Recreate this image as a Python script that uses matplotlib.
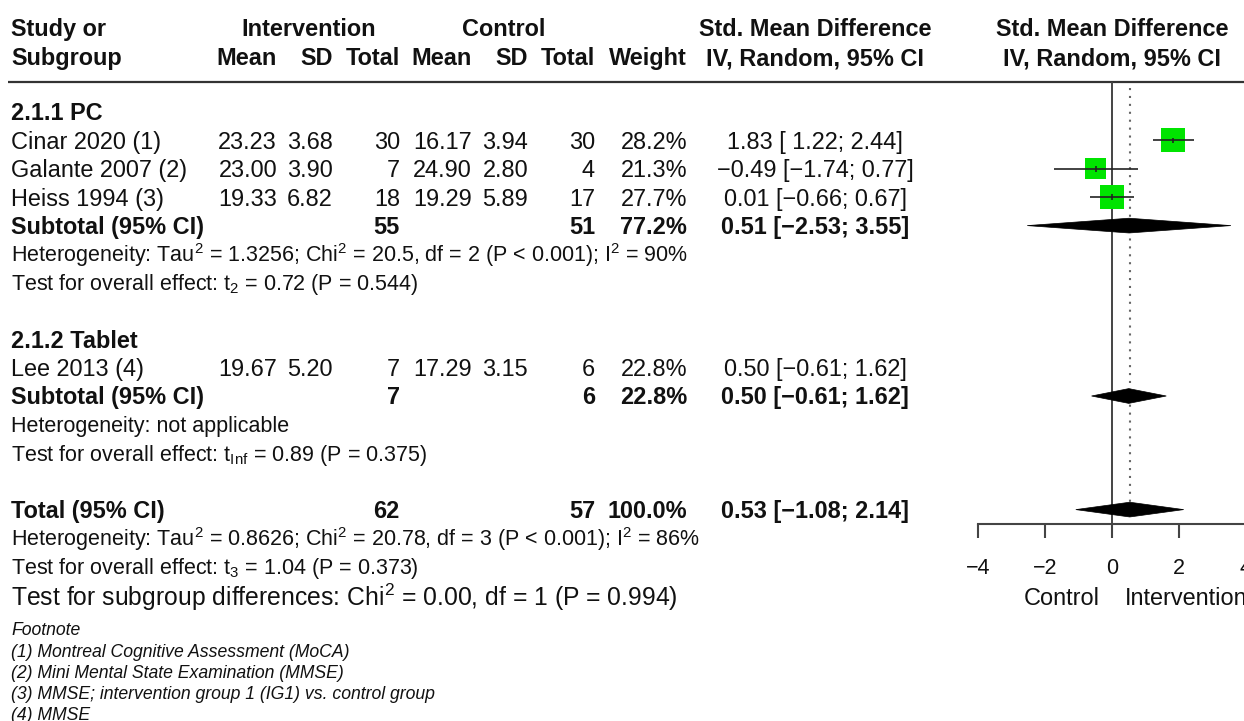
import numpy as np
import matplotlib
matplotlib.use("Agg")
import matplotlib.pyplot as plt
from matplotlib.patches import Polygon

plt.rcParams['font.family'] = ['Liberation Sans', 'DejaVu Sans']
plt.rcParams['mathtext.fontset'] = 'custom'
plt.rcParams['mathtext.rm'] = 'Liberation Sans'
plt.rcParams['mathtext.it'] = 'Liberation Sans:italic'
plt.rcParams['mathtext.bf'] = 'Liberation Sans:bold'
plt.rcParams['mathtext.default'] = 'rm'

# ---- study-level data -------------------------------------------------------
studies = ["Cinar 2020 (1)", "Galante 2007 (2)", "Heiss 1994 (3)", "Lee 2013 (4)"]
study_group = [0, 0, 0, 1]
int_mean = [23.23, 23.00, 19.33, 19.67]
int_sd = [3.68, 3.90, 6.82, 5.20]
int_n = [30, 7, 18, 7]
ctl_mean = [16.17, 24.90, 19.29, 17.29]
ctl_sd = [3.94, 2.80, 5.89, 3.15]
ctl_n = [30, 4, 17, 6]
weights = [28.2, 21.3, 27.7, 22.8]
smd = [1.83, -0.49, 0.01, 0.50]
ci_lo = [1.22, -1.74, -0.66, -0.61]
ci_hi = [2.44, 0.77, 0.67, 1.62]
show_square = [True, True, True, False]

# ---- subgroup and overall summaries ----------------------------------------
groups = ["2.1.1 PC", "2.1.2 Tablet"]
sub_n_int = [55, 7]
sub_n_ctl = [51, 6]
sub_weight = [77.2, 22.8]
sub_smd = [0.51, 0.50]
sub_lo = [-2.53, -0.61]
sub_hi = [3.55, 1.62]
sub_het = [r"Heterogeneity: Tau$^2$ = 1.3256; Chi$^2$ = 20.5, df = 2 (P < 0.001); I$^2$ = 90%",
           "Heterogeneity: not applicable"]
sub_test = [r"Test for overall effect: t$_2$ = 0.72 (P = 0.544)",
            r"Test for overall effect: t$_{\mathrm{Inf}}$ = 0.89 (P = 0.375)"]

tot_n_int, tot_n_ctl, tot_weight = 62, 57, 100.0
tot_smd, tot_lo, tot_hi = 0.53, -1.08, 2.14
tot_het = r"Heterogeneity: Tau$^2$ = 0.8626; Chi$^2$ = 20.78, df = 3 (P < 0.001); I$^2$ = 86%"
tot_test = r"Test for overall effect: t$_3$ = 1.04 (P = 0.373)"
subgroup_test = r"Test for subgroup differences: Chi$^2$ = 0.00, df = 1 (P = 0.994)"

x_ticks = [-4, -2, 0, 2, 4]
label_left, label_right = "Control", "Intervention"

footnotes = ["Footnote",
             "(1) Montreal Cognitive Assessment (MoCA)",
             "(2) Mini Mental State Examination (MMSE)",
             "(3) MMSE; intervention group 1 (IG1) vs. control group",
             "(4) MMSE"]

# ---- layout -----------------------------------------------------------------
FIG_W, FIG_H, DPI = 1244, 721, 100
ROW0, ROW_H = 112, 28.4          # pixel centre of the first body row, row pitch
MAIN, SMALL, FOOT, TICK, SUBTEST = 16.9, 15.5, 12.7, 15.5, 17.8
INK = '#111111'
LINE = '#444444'
GREEN = '#00e400'


def row_of(px):
    return (px - ROW0) / ROW_H


def fmt(v):
    return f"{v:.2f}".replace('-', '\u2212')


def ci_text(est, lo, hi):
    return f"{est:.2f} [{lo:5.2f}; {hi:.2f}]".replace('-', '\u2212')


fig = plt.figure(figsize=(FIG_W / DPI, FIG_H / DPI), dpi=DPI)
fig.patch.set_facecolor('white')

tab = fig.add_axes([0, 0, 1, 1])
tab.set_xlim(0, FIG_W)
tab.set_ylim(row_of(FIG_H), row_of(0))
tab.axis('off')


def put(ax, x, r, s, size=MAIN, ha='left', weight='normal', style='normal'):
    # place text so that its cap height is centred on row r
    off = 0.716 * size / 72 * DPI / 2 / ROW_H
    ax.text(x, r + off, s, ha=ha, va='baseline', fontsize=size,
            fontweight=weight, fontstyle=style, color=INK, clip_on=False)


X_NAME = 11
X_IMEAN, X_ISD, X_IN = 277, 333, 400
X_CMEAN, X_CSD, X_CN = 472, 528, 595
X_W, X_CI = 687, 815

H1, H2 = row_of(28), row_of(57)
put(tab, X_NAME, H1, "Study or", weight='bold')
put(tab, X_NAME, H2, "Subgroup", weight='bold')
put(tab, (217 + X_IN) / 2, H1, "Intervention", ha='center', weight='bold')
put(tab, (412 + X_CN) / 2, H1, "Control", ha='center', weight='bold')
put(tab, X_CI, H1, "Std. Mean Difference", ha='center', weight='bold')
for x, s in [(X_IMEAN, "Mean"), (X_ISD, "SD"), (X_IN, "Total"),
             (X_CMEAN, "Mean"), (X_CSD, "SD"), (X_CN, "Total"), (X_W, "Weight")]:
    put(tab, x, H2, s, ha='right', weight='bold')
put(tab, X_CI, H2, "IV, Random, 95% CI", ha='center', weight='bold')
tab.hlines(row_of(82), 8, FIG_W, color='#333333', lw=1.6)

# row index of every block
group_row = [0, 8]
study_row = [1, 2, 3, 9]
sub_row = [4, 10]
tot_row = 14

for g, name in enumerate(groups):
    put(tab, X_NAME, group_row[g], name, weight='bold')

for i, name in enumerate(studies):
    r = study_row[i]
    put(tab, X_NAME, r, name)
    put(tab, X_IMEAN, r, fmt(int_mean[i]), ha='right')
    put(tab, X_ISD, r, fmt(int_sd[i]), ha='right')
    put(tab, X_IN, r, str(int_n[i]), ha='right')
    put(tab, X_CMEAN, r, fmt(ctl_mean[i]), ha='right')
    put(tab, X_CSD, r, fmt(ctl_sd[i]), ha='right')
    put(tab, X_CN, r, str(ctl_n[i]), ha='right')
    put(tab, X_W, r, f"{weights[i]:.1f}%", ha='right')
    put(tab, X_CI, r, ci_text(smd[i], ci_lo[i], ci_hi[i]), ha='center')

for g in range(len(groups)):
    r = sub_row[g]
    put(tab, X_NAME, r, "Subtotal (95% CI)", weight='bold')
    put(tab, X_IN, r, str(sub_n_int[g]), ha='right', weight='bold')
    put(tab, X_CN, r, str(sub_n_ctl[g]), ha='right', weight='bold')
    put(tab, X_W, r, f"{sub_weight[g]:.1f}%", ha='right', weight='bold')
    put(tab, X_CI, r, ci_text(sub_smd[g], sub_lo[g], sub_hi[g]), ha='center', weight='bold')
    put(tab, X_NAME, r + 1, sub_het[g], size=SMALL)
    put(tab, X_NAME, r + 2, sub_test[g], size=SMALL)

put(tab, X_NAME, tot_row, "Total (95% CI)", weight='bold')
put(tab, X_IN, tot_row, str(tot_n_int), ha='right', weight='bold')
put(tab, X_CN, tot_row, str(tot_n_ctl), ha='right', weight='bold')
put(tab, X_W, tot_row, f"{tot_weight:.1f}%", ha='right', weight='bold')
put(tab, X_CI, tot_row, ci_text(tot_smd, tot_lo, tot_hi), ha='center', weight='bold')
put(tab, X_NAME, tot_row + 1, tot_het, size=SMALL)
put(tab, X_NAME, tot_row + 2, tot_test, size=SMALL)
put(tab, X_NAME, row_of(597), subgroup_test, size=SUBTEST)

for k, s in enumerate(footnotes):
    put(tab, X_NAME, row_of(629 + 21.2 * k), s, size=FOOT, style='italic')

# ---- forest panel -----------------------------------------------------------
AX_L, AX_R, AX_TOP, AX_BOT = 978, 1246, 82, 524
fx = fig.add_axes([AX_L / FIG_W, 1 - AX_BOT / FIG_H,
                   (AX_R - AX_L) / FIG_W, (AX_BOT - AX_TOP) / FIG_H])
fx.patch.set_alpha(0)
fx.set_xlim(x_ticks[0], x_ticks[-1])
fx.set_ylim(row_of(AX_BOT), row_of(AX_TOP))
for side in ['top', 'left', 'right']:
    fx.spines[side].set_visible(False)
fx.spines['bottom'].set_color(LINE)
fx.spines['bottom'].set_linewidth(1.5)
fx.set_xticks(x_ticks)
fx.set_xticklabels([str(t).replace('-', '\u2212') for t in x_ticks])
fx.tick_params(axis='x', direction='out', length=10, width=1.5, pad=14.5,
               labelsize=TICK, color=LINE, labelcolor=INK)
fx.set_yticks([])

put(fx, 0, H1, "Std. Mean Difference", ha='center', weight='bold')
put(fx, 0, H2, "IV, Random, 95% CI", ha='center', weight='bold')

fx.axvline(0, color=LINE, lw=1.4, zorder=1)
HALF = 0.26
fx.vlines(tot_smd, row_of(88), tot_row - HALF, colors='#666666',
          linestyles=(0, (1, 2.8)), lw=1.5, zorder=1)

PX_PER_SQRT_W = 4.52
for i in range(len(studies)):
    if not show_square[i]:
        continue
    r = study_row[i]
    side_pt = PX_PER_SQRT_W * np.sqrt(weights[i]) * 72 / DPI
    fx.scatter([smd[i]], [r], marker='s', s=side_pt ** 2, color=GREEN,
               edgecolors='none', zorder=3)
    fx.hlines(r, ci_lo[i], ci_hi[i], colors='#222222', lw=1.2, zorder=4)
    fx.vlines(smd[i], r - 0.1, r + 0.1, colors='#222222', lw=1.2, zorder=4)


def diamond(est, lo, hi, r):
    fx.add_patch(Polygon([(lo, r), (est, r - HALF), (hi, r), (est, r + HALF)],
                         closed=True, facecolor='black', edgecolor='black',
                         lw=0.5, zorder=5))


for g in range(len(groups)):
    diamond(sub_smd[g], sub_lo[g], sub_hi[g], sub_row[g])
diamond(tot_smd, tot_lo, tot_hi, tot_row)

put(fx, -0.36, row_of(597), label_left, ha='right')
put(fx, 0.39, row_of(597), label_right, ha='left')

fig.savefig("out.png", dpi=DPI, facecolor='white')
